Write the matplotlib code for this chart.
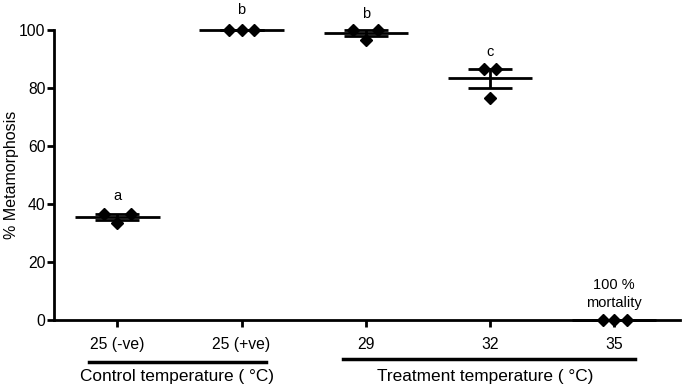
import numpy as np
import matplotlib
matplotlib.use("Agg")
import matplotlib.pyplot as plt

plt.rcParams['font.family'] = ['Liberation Sans', 'DejaVu Sans']

# datos
categorias = ["25 (-ve)", "25 (+ve)", "29", "32", "35"]
rep_valores = [
    [36.7, 36.7, 33.3],
    [100.0, 100.0, 100.0],
    [100.0, 100.0, 96.7],
    [86.7, 86.7, 76.7],
    [0.0, 0.0, 0.0],
]
# desplazamiento horizontal de cada punto (como lo hace GraphPad)
desplazamientos = [
    [-0.11, 0.11, 0.0],
    [-0.10, 0.0, 0.10],
    [-0.10, 0.10, 0.0],
    [-0.045, 0.045, 0.0],
    [-0.09, 0.0, 0.10],
]
letras = ["a", "b", "b", "c", "100 %\nmortality"]
letras_y = [42.8, 106.9, 105.5, 92.4, 9.0]

fig = plt.figure(figsize=(6.85, 3.9), dpi=100)
ax = fig.add_axes([0.0788, 0.1795, 0.9139, 0.7435])

x = np.arange(len(categorias))
for i, vals in enumerate(rep_valores):
    vals = np.array(vals)
    media = vals.mean()
    sem = vals.std(ddof=1) / np.sqrt(len(vals))
    # linea de la media
    ax.hlines(media, i - 0.34, i + 0.34, color="black", lw=2, zorder=3, clip_on=False)
    # barra de error (SEM)
    ax.errorbar(i, media, yerr=sem, fmt="none", ecolor="black", elinewidth=2,
                capsize=15.5, capthick=2, zorder=3, clip_on=False)
    ax.plot(i + np.array(desplazamientos[i]), vals, "D", color="black",
            markersize=6.5, zorder=4, clip_on=False)
    ax.text(i, letras_y[i], letras[i], ha="center", va="center", fontsize=10.5,
            linespacing=1.3, clip_on=False)

ax.set_xlim(-0.51, 4.53)
ax.set_ylim(0, 100)
ax.set_yticks([0, 20, 40, 60, 80, 100])
ax.set_xticks(x)
ax.set_xticklabels(categorias, fontsize=11.3)
ax.tick_params(axis="y", labelsize=11.3, width=2, length=5, pad=1)
ax.tick_params(axis="x", width=2, length=5, pad=7)
ax.set_ylabel("% Metamorphosis", fontsize=11.5)
ax.yaxis.set_label_coords(-0.056, 0.5)

for s in ["top", "right"]:
    ax.spines[s].set_visible(False)
for s in ["left", "bottom"]:
    ax.spines[s].set_linewidth(2)

# lineas de grupo debajo del eje x
trans = ax.get_xaxis_transform()
ax.plot([-0.23, 1.20], [-0.145, -0.145], color="black", lw=2.5, transform=trans, clip_on=False)
ax.text(0.48, -0.195, "Control temperature ( °C)", ha="center", va="center", fontsize=12.4, transform=trans)
ax.plot([1.82, 4.17], [-0.135, -0.135], color="black", lw=2.5, transform=trans, clip_on=False)
ax.text(2.96, -0.195, "Treatment temperature ( °C)", ha="center", va="center", fontsize=12.4, transform=trans)

fig.savefig("out.png", dpi=100)
